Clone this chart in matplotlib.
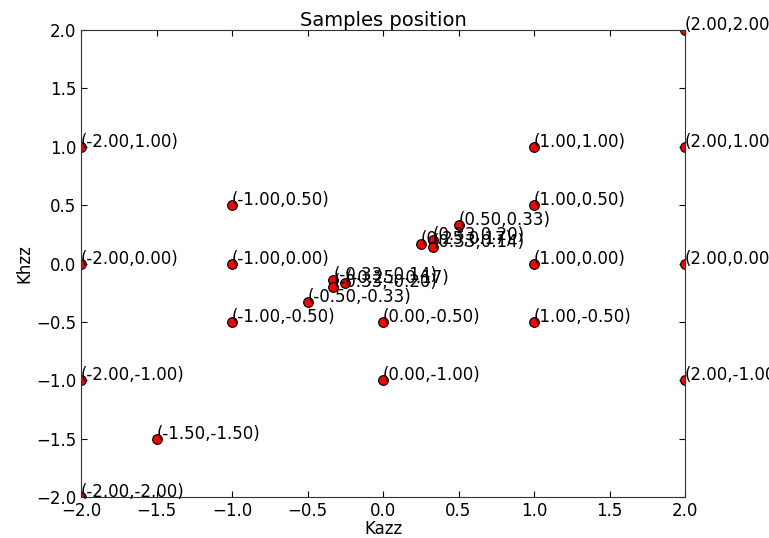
import matplotlib
matplotlib.use("Agg")
import matplotlib.pyplot as plt

kazz = [2.0, -2.0, 1.0, 2.0, -1.0, 1.0, 0.5, 0.33, 0.25, 0.33, -2.0, -1.0, 1.0, 2.0,
        -0.33, -0.25, -0.33, -0.5, -1.0, 0.0, 1.0, -2.0, 0.0, 2.0, -1.5, -2.0]
khzz = [2.0, 1.0, 1.0, 1.0, 0.5, 0.5, 0.33, 0.20, 0.17, 0.14, 0.0, 0.0, 0.0, 0.0,
        -0.14, -0.17, -0.20, -0.33, -0.5, -0.5, -0.5, -1.0, -1.0, -1.0, -1.5, -2.0]
xticks = [-2.0, -1.5, -1.0, -0.5, 0.0, 0.5, 1.0, 1.5, 2.0]
yticks = [-2.0, -1.5, -1.0, -0.5, 0.0, 0.5, 1.0, 1.5, 2.0]

fig = plt.figure(figsize=(7.69, 5.38), dpi=100)
ax = fig.add_axes([81/769, 1-497/538, (685-81)/769, (497-30)/538])
ax.plot(kazz, khzz, 'o', color='red', markeredgecolor='black', markersize=7,
        markeredgewidth=0.8, linestyle='none')
for x, y in zip(kazz, khzz):
    ax.text(x, y, "(%.2f,%.2f)" % (x, y), fontsize=12, color='black', clip_on=False)
ax.set_xlim(-2, 2)
ax.set_ylim(-2, 2)
ax.set_xticks(xticks)
ax.set_yticks(yticks)
ax.set_xticklabels(["%.1f" % v if v >= 0 else "\u2212%.1f" % -v for v in xticks])
ax.set_yticklabels(["%.1f" % v if v >= 0 else "\u2212%.1f" % -v for v in yticks])
ax.tick_params(direction='in', top=True, right=True, labelsize=12, length=4)
for s in ax.spines.values():
    s.set_color('#333333')
ax.set_xlabel("Kazz", fontsize=12, labelpad=0)
ax.set_ylabel("Khzz", fontsize=12, labelpad=2)
ax.set_title("Samples position", fontsize=14, pad=3)
fig.savefig("out.png", dpi=100)
